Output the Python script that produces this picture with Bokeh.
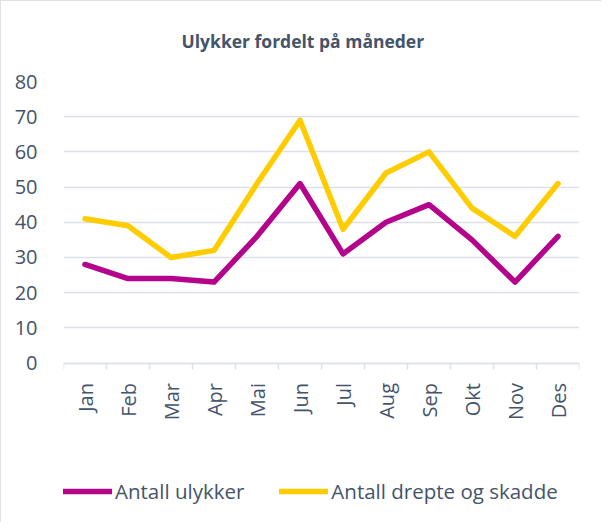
import math
from bokeh.plotting import figure
from bokeh.models import Range1d, FixedTicker, Legend, LegendItem
from bokeh.embed import file_html
from bokeh.resources import INLINE

months = ["Jan", "Feb", "Mar", "Apr", "Mai", "Jun", "Jul", "Aug", "Sep", "Okt", "Nov", "Des"]
ulykker = [28, 24, 24, 23, 36, 51, 31, 40, 45, 35, 23, 36]
drepte_skadde = [41, 39, 30, 32, 51, 69, 38, 54, 60, 44, 36, 51]
y_ticks = [0, 10, 20, 30, 40, 50, 60, 70, 80]
title_text = "Ulykker fordelt på måneder"
series_names = ["Antall ulykker", "Antall drepte og skadde"]

TEXT = "#44546a"
GRID = "#dde1e7"
PURPLE = "#b4048b"
YELLOW = "#ffcc00"
FONT = "Open Sans"

# layout geometry (pixels): value axis 0..80 spans 281.5 px; the frame continues
# below zero to hold the category labels and the legend
W, H = 601, 522
TOP = 80
AXIS_PX = 281.5
BELOW_PX = H - TOP - AXIS_PX
y_lo = -(y_ticks[-1] - y_ticks[0]) * BELOW_PX / AXIS_PX

xs = [i + 0.5 for i in range(len(months))]

p = figure(width=W, height=H, output_backend="svg", toolbar_location=None,
           x_range=Range1d(0, len(months)), y_range=Range1d(y_lo, y_ticks[-1]),
           min_border_left=62, min_border_right=23, min_border_top=TOP, min_border_bottom=0)
p.outline_line_color = None
p.background_fill_color = "white"
p.border_fill_color = "white"

p.title.text = title_text
p.title.text_font = FONT
p.title.text_font_size = "17.5px"
p.title.text_font_style = "bold"
p.title.text_color = TEXT
p.title.align = "left"
p.title.vertical_align = "top"
p.title.offset = 118
p.title.standoff = 54

# category axis sits at value 0 inside the frame
xa = p.xaxis[0]
xa.fixed_location = 0
xa.bounds = (0, len(months))
xa.ticker = FixedTicker(ticks=xs, minor_ticks=list(range(len(months) + 1)))
xa.major_label_overrides = {x: m for x, m in zip(xs, months)}
xa.major_label_orientation = math.pi / 2
xa.major_tick_line_color = None
xa.major_tick_out = 0
xa.major_tick_in = 0
xa.minor_tick_out = 6
xa.minor_tick_in = 0
xa.minor_tick_line_color = GRID
xa.minor_tick_line_width = 1.5
xa.axis_line_color = GRID
xa.axis_line_width = 1.5
xa.major_label_standoff = 14
xa.major_label_text_font = FONT
xa.major_label_text_font_size = "20px"
xa.major_label_text_color = TEXT

ya = p.yaxis[0]
ya.ticker = FixedTicker(ticks=y_ticks)
ya.axis_line_color = None
ya.major_tick_line_color = None
ya.minor_tick_line_color = None
ya.major_tick_out = 0
ya.major_tick_in = 0
ya.major_label_standoff = 26
ya.major_label_text_font = FONT
ya.major_label_text_font_size = "20px"
ya.major_label_text_color = TEXT

p.xgrid.grid_line_color = None
p.ygrid.grid_line_color = GRID
p.ygrid.grid_line_width = 1.5

r1 = p.line(xs, ulykker, line_color=PURPLE, line_width=5.5, line_join="round", line_cap="round")
r2 = p.line(xs, drepte_skadde, line_color=YELLOW, line_width=5.5, line_join="round", line_cap="round")

legend = Legend(items=[LegendItem(label=series_names[0], renderers=[r1]),
                       LegendItem(label=series_names[1], renderers=[r2])],
                orientation="horizontal", location=(0, 18),
                label_text_font=FONT, label_text_font_size="20.5px", label_text_color=TEXT,
                glyph_width=49, glyph_height=20, label_standoff=3, spacing=35,
                padding=0, margin=0, border_line_color=None, background_fill_alpha=0)
p.add_layout(legend, "center")

p.styles = {"border-left": "1px solid #dfe3e8", "border-top": "1px solid #dfe3e8"}

open("out.html", "w").write(file_html(p, INLINE))
